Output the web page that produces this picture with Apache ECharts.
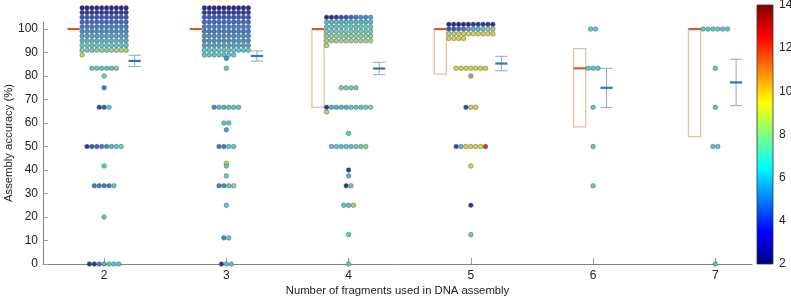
<!DOCTYPE html>
<html>
<head>
<meta charset="utf-8">
<script src="https://cdn.jsdelivr.net/npm/echarts@6/dist/echarts.min.js"></script>
<style>
  html, body { margin: 0; padding: 0; background: #fff; }
  #chart { width: 791px; height: 297px; }
</style>
</head>
<body>
<div id="chart"></div>
<script>
const categories = [2, 3, 4, 5, 6, 7]
const yTicks = [0, 10, 20, 30, 40, 50, 60, 70, 80, 90, 100]
const colorTicks = [2, 4, 6, 8, 10, 12, 14]

function rep(c, n) { return Array(n).fill(c) }

// one entry per accuracy level: [accuracy %, colour value of every dot at that level]
const groups2 = [
  [100, [].concat(rep(2, 10), rep(2.5, 10), rep(3.5, 10), rep(4, 10), rep(4.5, 10), rep(5, 10),
    rep(5.5, 10), rep(6, 10), rep(6.5, 10), [7, 7, 7, 7.5, 7.5, 7.5, 8, 8, 8.5, 8.5], [9.5])],
  [83.3, [6.5, 6.5, 6.5, 6.5, 6.5, 7.5]],
  [80, [7]],
  [75, [4.5]],
  [66.7, [3, 3.5, 6.5]],
  [50, [2.5, 3.5, 4, 4.5, 5, 6, 6.5, 7]],
  [41.7, [6.5]],
  [33.3, [4.5, 4.5, 4.5, 4.5, 6.5]],
  [20, [6.5]],
  [0, [2.5, 2.5, 4.5, 6, 6.5, 6.5, 6.5]]
]
const groups3 = [
  [100, [].concat(rep(2, 10), rep(2.5, 10), rep(3.5, 10), rep(4, 10), rep(4.5, 10), rep(4.5, 10),
    rep(5, 10), rep(5, 10), rep(5.5, 10), rep(6.5, 10), rep(6.5, 7))],
  [87.5, [5]],
  [83.3, [6.5]],
  [66.7, [5, 6, 6, 6.5, 6.5, 6.5]],
  [60, [6.5, 6.5]],
  [57.1, [5.5]],
  [50, [4.5, 4.5, 6.5, 6.5]],
  [42.9, [9.5]],
  [41.7, [6.5]],
  [37.5, [7]],
  [33.3, [4.5, 5, 6.5, 7.5]],
  [25, [6.5]],
  [11.1, [5, 6.5]],
  [0, [2.5, 6.5, 6.5]]
]
const groups4 = [
  [100, [].concat([2, 2, 2.5, 3, 3.5, 4, 4.5, 5, 5, 5.5], rep(6, 10), rep(6.5, 10), rep(7, 10),
    rep(7.5, 10), rep(8, 10), [8.5])],
  [75, [7, 7, 7, 7]],
  [66.7, [2.5, 6, 6, 6, 6, 6.5, 6.5, 6.5, 7, 7.5, 8.5]],
  [55.6, [6.5]],
  [50, [6.5, 6.5, 6.5, 6.5, 6.5, 7, 7, 7.5]],
  [40, [2.5]],
  [37.5, [6]],
  [33.3, [2.5, 6.5]],
  [25, [6.5, 6.5, 8]],
  [12.5, [6.5]],
  [0, [6.5]]
]
const groups5 = [
  [100, [].concat([2, 2, 2, 2, 2, 2.5, 2.5, 2.5, 2.5, 2.5], [3.5, 3.5, 4, 4.5, 5.5, 6, 6, 6.5, 7.5, 8],
    [8.5, 9, 9, 9.5, 9.5, 9.5, 9.5, 9.5, 9.5, 9.5], [9.5, 9.5, 9.5, 9.5])],
  [83.3, [9.5, 9.5, 9.5, 9.5, 9.5, 9.5, 9.5]],
  [80, [11]],
  [66.7, [3, 9.5, 9.5]],
  [50, [3, 6, 9.5, 9.5, 9.5, 9.5, 13]],
  [41.7, [9.5]],
  [25, [2.5]],
  [12.5, [7]]
]
const groups6 = [
  [100, [6.5, 6.5]],
  [83.3, [6.5, 6.5, 6.5]],
  [66.7, [6.5]],
  [50, [6.5]],
  [33.3, [6.5]]
]
const groups7 = [
  [100, [6.5, 6.5, 6.5, 6.5, 6.5, 6.5]],
  [83.3, [6.5]],
  [66.7, [6.5]],
  [50, [6.5, 6.5]],
  [0, [6.5]]
]
const allGroups = [groups2, groups3, groups4, groups5, groups6, groups7]

// colour bar uses plain jet, the dots show it a bit duller (edge + blending)
const jet = ['#000080', '#0000ff', '#0080ff', '#00ffff', '#80ff80', '#ffff00', '#ff8000', '#ff0000', '#800000']
const dotJet = ['#1c1c8c', '#2a4cc0', '#3a88c4', '#4cc8c4', '#98d088', '#d6d040', '#e08840', '#d84030', '#902020']

// swarm layout
const PER_ROW = 10
const DX = 0.04   // x units between dots
const DY = 2      // y units between wrapped rows
const GAP = 0.07
const BOX_W = 0.1

function prctile(sorted, p) {
  const n = sorted.length
  const pos = p * n + 0.5
  if (pos <= 1) return sorted[0]
  if (pos >= n) return sorted[n - 1]
  const i = Math.floor(pos)
  return sorted[i - 1] + (pos - i) * (sorted[i] - sorted[i - 1])
}

const dots = []
const boxes = []
const errs = []
categories.forEach(function (cat, k) {
  const vals = []
  let widest = 1
  allGroups[k].forEach(function (g) {
    const v = g[0], cols = g[1], n = cols.length
    widest = Math.max(widest, Math.min(n, PER_ROW))
    const full = Math.floor(n / PER_ROW)
    cols.forEach(function (c, i) {
      vals.push(v)
      let x, y
      if (n <= PER_ROW) {
        x = cat + (i - (n - 1) / 2) * DX
        y = v
      } else {
        x = cat + (i % PER_ROW - (PER_ROW - 1) / 2) * DX
        y = v - (Math.floor(i / PER_ROW) - (full - 1) / 2) * DY
      }
      dots.push([x, y, c])
    })
  })
  vals.sort(function (a, b) { return a - b })
  const n = vals.length
  const mean = vals.reduce(function (s, a) { return s + a }, 0) / n
  const sd = Math.sqrt(vals.reduce(function (s, a) { return s + (a - mean) * (a - mean) }, 0) / (n - 1))
  const off = (widest - 1) / 2 * DX + GAP
  boxes.push([cat, prctile(vals, 0.25), prctile(vals, 0.5), prctile(vals, 0.75), off])
  errs.push([cat, mean, sd / Math.sqrt(n), off])
})

const font = 'Liberation Sans, Arial, sans-serif'
const chart = echarts.init(document.getElementById('chart'))

chart.setOption({
  animation: false,
  textStyle: { fontFamily: font },
  grid: [
    { left: 43, right: 39, top: 22, bottom: 33, outerBoundsMode: 'none' },
    { left: 757, width: 16, top: 5, bottom: 33, outerBoundsMode: 'none' }
  ],
  visualMap: {
    show: false,
    type: 'continuous',
    min: 2,
    max: 14,
    dimension: 2,
    seriesIndex: 0,
    inRange: { color: dotJet }
  },
  xAxis: [{
    type: 'value',
    gridIndex: 0,
    min: 1.5,
    max: 7.3,
    name: 'Number of fragments used in DNA assembly',
    nameLocation: 'middle',
    nameGap: 21,
    nameMoveOverlap: false,
    nameTextStyle: { fontSize: 11.3, color: '#222' },
    axisLine: { lineStyle: { color: '#808080' } },
    axisTick: { inside: true, length: 6, customValues: categories, lineStyle: { color: '#999' } },
    axisLabel: { customValues: categories, fontSize: 12, color: '#222', margin: 6 },
    splitLine: { show: false }
  }, {
    type: 'value',
    gridIndex: 1,
    min: 0,
    max: 1,
    show: false
  }],
  yAxis: [{
    type: 'value',
    gridIndex: 0,
    min: 0,
    max: 103,
    name: 'Assembly accuracy (%)',
    nameLocation: 'middle',
    nameGap: 29,
    nameMoveOverlap: false,
    nameTextStyle: { fontSize: 11.3, color: '#222' },
    axisLine: { show: true, lineStyle: { color: '#808080' } },
    axisTick: { show: true, inside: true, length: 5, customValues: yTicks, lineStyle: { color: '#999' } },
    axisLabel: { customValues: yTicks, fontSize: 12, color: '#222', margin: 5 },
    splitLine: { show: false }
  }, {
    type: 'value',
    gridIndex: 1,
    min: 2,
    max: 14,
    position: 'right',
    axisLine: { show: false },
    axisTick: { show: false },
    axisLabel: { customValues: colorTicks, fontSize: 12, color: '#222', margin: 6 },
    splitLine: { show: false }
  }],
  series: [{
    type: 'scatter',
    xAxisIndex: 0,
    yAxisIndex: 0,
    data: dots,
    symbolSize: 4.6,
    clip: false,
    itemStyle: { borderColor: '#555', borderWidth: 0.5, opacity: 0.95 },
    z: 3
  }, {
    type: 'custom',
    xAxisIndex: 0,
    yAxisIndex: 0,
    data: boxes,
    z: 2,
    renderItem: function (params, api) {
      const c = api.value(0) - api.value(4)
      const lo = api.coord([c - BOX_W / 2, api.value(1)])
      const hi = api.coord([c + BOX_W / 2, api.value(3)])
      const md = api.coord([c, api.value(2)])
      return {
        type: 'group',
        children: [{
          type: 'rect',
          shape: { x: lo[0], y: hi[1], width: hi[0] - lo[0], height: lo[1] - hi[1] },
          style: { fill: 'none', stroke: '#e8c0a6', lineWidth: 1.3 }
        }, {
          type: 'line',
          shape: { x1: lo[0], y1: md[1], x2: hi[0], y2: md[1] },
          style: { stroke: '#c8622c', lineWidth: 2.2 }
        }]
      }
    }
  }, {
    type: 'custom',
    xAxisIndex: 0,
    yAxisIndex: 0,
    data: errs,
    z: 2,
    renderItem: function (params, api) {
      const c = api.value(0) + api.value(3)
      const m = api.value(1), e = api.value(2)
      const top = api.coord([c, m + e])
      const bot = api.coord([c, m - e])
      const mid = api.coord([c, m])
      const hw = (api.coord([c + BOX_W / 2, m])[0] - mid[0])
      const thin = { stroke: '#86aad2', lineWidth: 1 }
      return {
        type: 'group',
        children: [
          { type: 'line', shape: { x1: mid[0], y1: top[1], x2: mid[0], y2: bot[1] }, style: thin },
          { type: 'line', shape: { x1: mid[0] - hw, y1: top[1], x2: mid[0] + hw, y2: top[1] }, style: thin },
          { type: 'line', shape: { x1: mid[0] - hw, y1: bot[1], x2: mid[0] + hw, y2: bot[1] }, style: thin },
          { type: 'line', shape: { x1: mid[0] - hw, y1: mid[1], x2: mid[0] + hw, y2: mid[1] }, style: { stroke: '#3a74b2', lineWidth: 2.2 } }
        ]
      }
    }
  }, {
    type: 'custom',
    xAxisIndex: 1,
    yAxisIndex: 1,
    data: [[0, 2, 14]],
    renderItem: function (params, api) {
      const a = api.coord([0, api.value(2)])
      const b = api.coord([1, api.value(1)])
      const stops = jet.map(function (col, i) { return { offset: 1 - i / (jet.length - 1), color: col } }).reverse()
      return {
        type: 'rect',
        shape: { x: a[0], y: a[1], width: b[0] - a[0], height: b[1] - a[1] },
        style: {
          fill: new echarts.graphic.LinearGradient(0, 0, 0, 1, stops),
          stroke: '#333',
          lineWidth: 0.8
        }
      }
    }
  }]
})
</script>
</body>
</html>
